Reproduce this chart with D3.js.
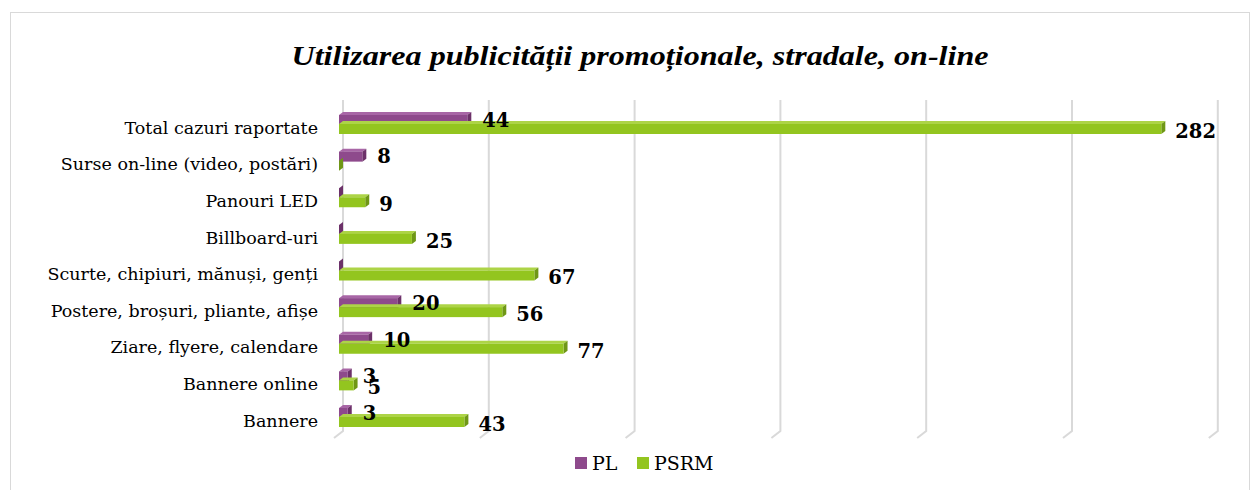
<!DOCTYPE html>
<html>
<head>
<meta charset="utf-8">
<title>Utilizarea publicitatii</title>
<script src="https://cdn.jsdelivr.net/npm/d3@7/dist/d3.min.js"></script>
<style>
    body { margin: 0; background: #fff; }
    svg { display: block; }
</style>
</head>
<body>
<svg width="1258" height="490"></svg>
<script>
    // data
    const categories = [
        'Total cazuri raportate',
        'Surse on-line (video, postări)',
        'Panouri LED',
        'Billboard-uri',
        'Scurte, chipiuri, mănuși, genți',
        'Postere, broșuri, pliante, afișe',
        'Ziare, flyere, calendare',
        'Bannere online',
        'Bannere'
    ];
    const plValues   = [44, 8, 0, 0, 0, 20, 10, 3, 3];
    const psrmValues = [282, 0, 9, 25, 67, 56, 77, 5, 43];
    const gridTicks  = [0, 50, 100, 150, 200, 250, 300];
    const seriesNames = ['PL', 'PSRM'];

    const colors = {
        PL:   { front: '#8E4A8C', top: '#A866A6', side: '#6C3169' },
        PSRM: { front: '#93C51F', top: '#ADD447', side: '#6F9716' }
    };

    const svg = d3.select('svg');

    // chart border
    svg.append('rect')
        .attr('x', 10.5).attr('y', 12.5)
        .attr('width', 1239).attr('height', 500)
        .attr('fill', 'none')
        .attr('stroke', '#D9D9D9')
        .attr('stroke-width', 1);

    svg.append('text')
        .attr('x', 640).attr('y', 65)
        .attr('text-anchor', 'middle')
        .attr('font-family', '"Liberation Serif", serif')
        .attr('font-style', 'italic')
        .attr('font-weight', 'bold')
        .attr('font-size', 27)
        .attr('textLength', 697)
        .attr('lengthAdjust', 'spacingAndGlyphs')
        .text('Utilizarea publicității promoționale, stradale, on-line');

    const x = d3.scaleLinear().domain([0, 300]).range([339, 1213.8]);
    const y = d3.scalePoint().domain(categories).range([127, 420]);

    const dx = 4, dy = 3;        // bar depth
    const wallDx = 4;            // back wall offset
    const barH = 10;

    // gridlines (back wall) + floor
    const grid = svg.append('g');
    gridTicks.forEach(t => {
        const gx = x(t) + wallDx;
        grid.append('path')
            .attr('d', `M${gx},100 L${gx},431 L${gx - 9},438`)
            .attr('fill', 'none')
            .attr('stroke', '#D9D9D9')
            .attr('stroke-width', 2);
    });

    // category axis
    const yAxis = d3.axisLeft(y).tickSize(0).tickPadding(0);
    const axisG = svg.append('g')
        .attr('transform', 'translate(318,0)')
        .call(yAxis);
    axisG.select('.domain').remove();
    axisG.selectAll('text')
        .attr('font-family', '"DejaVu Serif", serif')
        .attr('font-size', 17.5)
        .attr('fill', '#000')
        .attr('dy', '0.35em');

    const bar3d = (g, x0, x1, top, c) => {
        g.append('path')
            .attr('d', `M${x0},${top} L${x1},${top} L${x1 + dx},${top - dy} L${x0 + dx},${top - dy} Z`)
            .attr('fill', c.top);
        g.append('path')
            .attr('d', `M${x1},${top} L${x1 + dx},${top - dy} L${x1 + dx},${top + barH - dy} L${x1},${top + barH} Z`)
            .attr('fill', c.side);
        g.append('rect')
            .attr('x', x0).attr('y', top)
            .attr('width', Math.max(0, x1 - x0)).attr('height', barH)
            .attr('fill', c.front);
    };

    const bars = svg.append('g');
    const labels = svg.append('g')
        .attr('font-family', '"DejaVu Serif", serif')
        .attr('font-weight', 'bold')
        .attr('font-size', 19.5)
        .attr('fill', '#000');

    categories.forEach((cat, i) => {
        const cy = y(cat);
        bar3d(bars, x(0), x(plValues[i]), cy - 12, colors.PL);
        bar3d(bars, x(0), x(psrmValues[i]), cy - 3, colors.PSRM);
    });

    categories.forEach((cat, i) => {
        const cy = y(cat);
        if (plValues[i] > 0) {
            labels.append('text')
                .attr('x', x(plValues[i]) + dx + 11)
                .attr('y', cy - 7)
                .attr('dy', '0.35em')
                .text(plValues[i]);
        }
        if (psrmValues[i] > 0) {
            labels.append('text')
                .attr('x', x(psrmValues[i]) + dx + 10)
                .attr('y', cy + 4)
                .attr('dy', '0.35em')
                .text(psrmValues[i]);
        }
    });

    // legend
    const legend = svg.append('g').attr('transform', 'translate(575,457)');
    const legendX = [0, 62];
    seriesNames.forEach((name, i) => {
        const lg = legend.append('g').attr('transform', `translate(${legendX[i]},0)`);
        lg.append('rect')
            .attr('width', 12).attr('height', 12)
            .attr('fill', colors[name].front);
        lg.append('text')
            .attr('x', 17).attr('y', 6)
            .attr('dy', '0.35em')
            .attr('font-family', '"DejaVu Serif", serif')
            .attr('font-size', 19)
            .text(name);
    });
</script>
</body>
</html>
